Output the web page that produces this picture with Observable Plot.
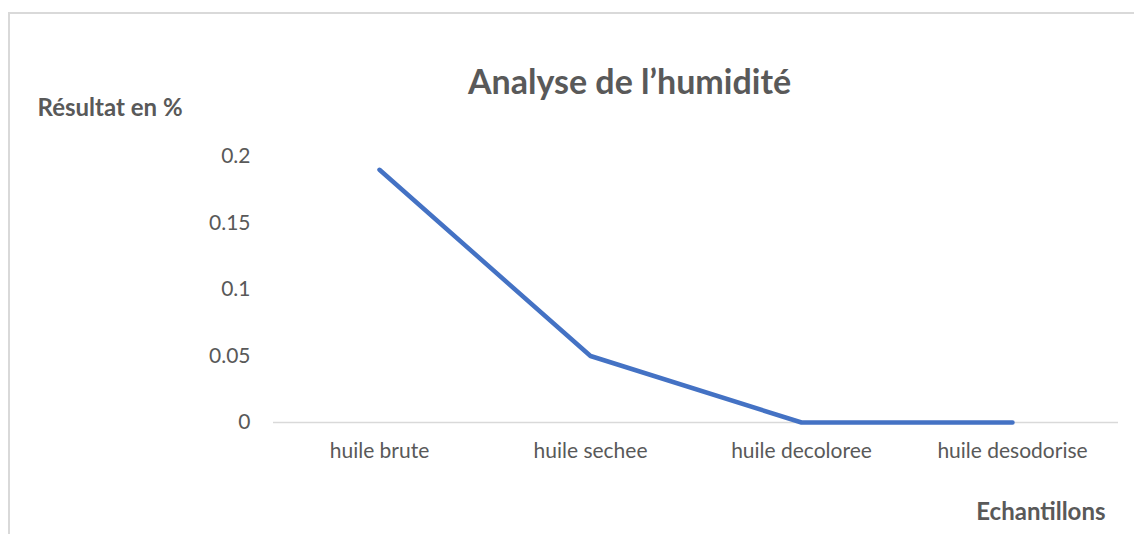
<!DOCTYPE html>
<html>
<head>
<meta charset="utf-8">
<script src="https://cdn.jsdelivr.net/npm/d3@7"></script>
<script src="https://cdn.jsdelivr.net/npm/@observablehq/plot@0.6"></script>
<style>
  html, body { margin: 0; padding: 0; background: #fff; overflow: hidden; }
  #wrap { position: relative; width: 1134px; height: 534px; }
  #border { position: absolute; left: 8px; top: 12px; width: 1200px; height: 600px; border-left: 2px solid #d9d9d9; border-top: 2px solid #d9d9d9; box-sizing: border-box; }
  #chart { position: absolute; left: 0; top: 0; }
</style>
</head>
<body>
<div id="wrap"><div id="border"></div><div id="chart"></div></div>
<script>
const categories = ["huile brute", "huile sechee", "huile decoloree", "huile desodorise"];
const values = [0.19, 0.05, 0, 0];
const yTicks = [0, 0.05, 0.1, 0.15, 0.2];
const title = "Analyse de l’humidité";
const yTitle = "Résultat en %";
const xTitle = "Echantillons";

const data = categories.map((c, i) => ({ cat: c, v: values[i] }));
const font = "Lato, 'Open Sans', sans-serif";
const grey = "#595959";

const chart = Plot.plot({
  width: 1134,
  height: 534,
  marginLeft: 273,
  marginRight: 16,
  marginTop: 156,
  marginBottom: 112,
  style: { fontFamily: font, fontSize: "21px", color: grey, background: "transparent", overflow: "visible" },
  x: { type: "point", domain: categories, padding: 0.5, label: null },
  y: { domain: [0, 0.2], label: null },
  marks: [
    Plot.ruleY([0], { stroke: "#d9d9d9", strokeWidth: 1.5 }),
    Plot.axisY({ ticks: yTicks, tickSize: 0, tickPadding: 23, tickFormat: d => String(d), fontSize: 21, fill: grey, label: null }),
    Plot.axisX({ tickSize: 0, tickPadding: 21, fontSize: 21, fill: grey, label: null }),
    Plot.lineY(data, { x: "cat", y: "v", stroke: "#4472C4", strokeWidth: 4.5, strokeLinecap: "round", strokeLinejoin: "round" }),
    Plot.text([title], { frameAnchor: "top-left", dx: 629 - 273, dy: 83 - 156, text: d => d, textAnchor: "middle", lineAnchor: "middle", fontSize: 34, fontWeight: "bold", fill: grey }),
    Plot.text([yTitle], { frameAnchor: "top-left", dx: 37 - 273, dy: 108 - 156, text: d => d, textAnchor: "start", lineAnchor: "middle", fontSize: 24, fontWeight: "bold", fill: grey }),
    Plot.text([xTitle], { frameAnchor: "bottom-right", dx: 1105 - 1118, dy: 512 - 422, text: d => d, textAnchor: "end", lineAnchor: "middle", fontSize: 24, fontWeight: "bold", fill: grey })
  ]
});
document.getElementById("chart").appendChild(chart);
</script>
</body>
</html>
